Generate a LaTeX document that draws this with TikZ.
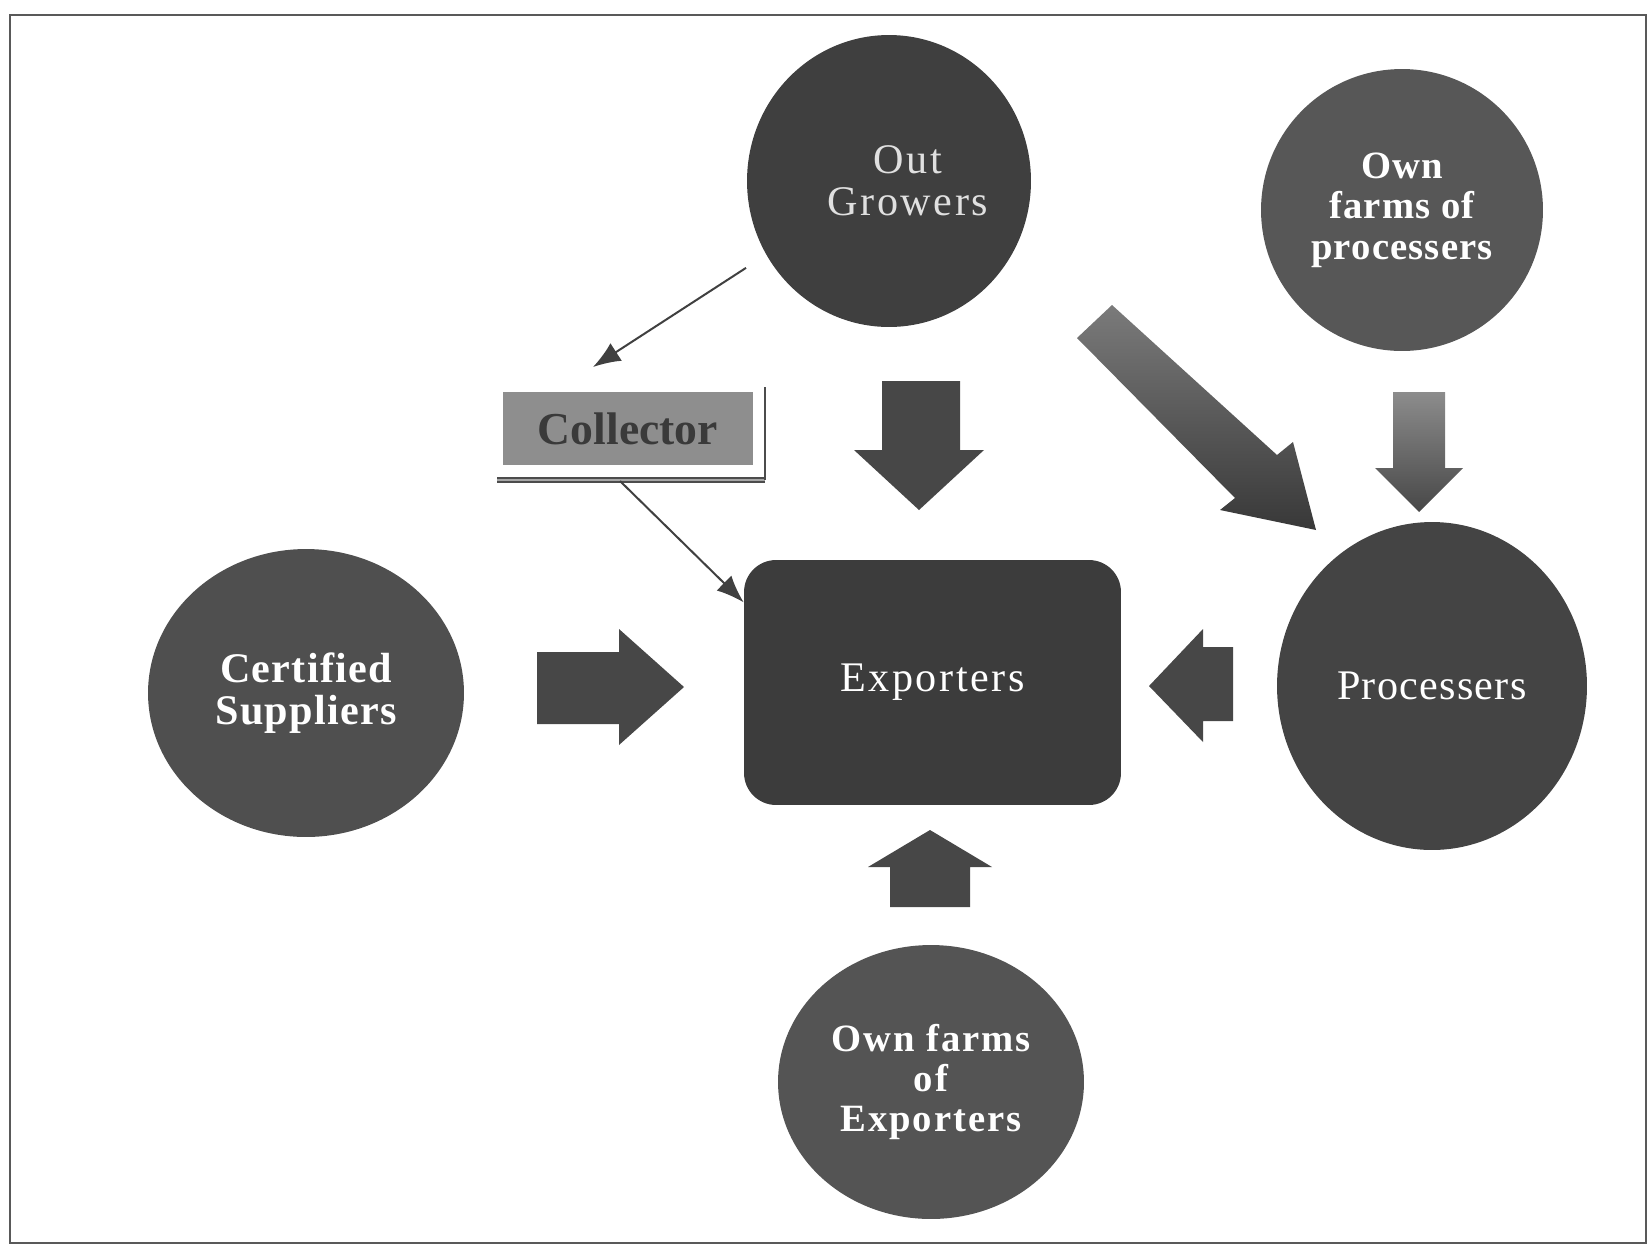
\documentclass[tikz,border=0pt]{standalone}
\usepackage{fontspec}
\setmainfont{Liberation Serif}
\usetikzlibrary{shapes.geometric,arrows.meta}

\definecolor{ballA}{HTML}{3F3F3F}
\definecolor{ballB}{HTML}{575757}
\definecolor{ballC}{HTML}{4F4F4F}
\definecolor{ballD}{HTML}{444444}
\definecolor{ballE}{HTML}{545454}
\definecolor{boxdark}{HTML}{3C3C3C}
\definecolor{collgray}{HTML}{8E8E8E}
\definecolor{colltext}{HTML}{3A3A3A}
\definecolor{fatgray}{HTML}{474747}

\newcommand{\ls}[1]{\addfontfeature{LetterSpace=#1}}

\begin{document}
\begin{tikzpicture}[x=0.02cm, y=-0.02cm, >={Latex[length=0.55cm,width=0.42cm]},
    ball/.style={ellipse, fill=#1, inner sep=0pt, text=white, align=center},
    expbox/.style={rectangle, rounded corners=0.64cm, fill=boxdark, text=white},
    collbox/.style={rectangle, fill=collgray, text=colltext, inner sep=0pt},
    thinarrow/.style={->, line width=0.04cm, black!75},
    fat/.style={fill=fatgray}]
  \useasboundingbox (0,0) rectangle (1650,1252);
  \draw[line width=0.04cm, black!65] (10,15) rectangle (1646,1243);

  % suppliers round the exporters
  \node[ball=ballA, minimum width=5.68cm, minimum height=5.84cm,
    font=\fontsize{24}{24}\selectfont\ls{6}, text=white!88!black] (outg) at (889,181)
    {\hspace*{0.76cm}Out\\\hspace*{0.76cm}Growers};
  \node[ball=ballB, minimum width=5.64cm, minimum height=5.64cm,
    font=\fontsize{22}{23}\selectfont\bfseries\ls{3}] (ownproc) at (1402,210) {Own\\farms of\\processers};
  \node[ball=ballC, minimum width=6.32cm, minimum height=5.76cm,
    font=\fontsize{24}{24}\selectfont\bfseries\ls{3}] (certsup) at (306,693) {Certified\\Suppliers};
  \node[ball=ballD, minimum width=6.2cm, minimum height=6.56cm,
    font=\fontsize{24}{24}\selectfont\ls{3}] (proc) at (1432,686) {Processers};
  \node[ball=ballE, minimum width=6.12cm, minimum height=5.48cm,
    font=\fontsize{22}{23}\selectfont\bfseries\ls{5}] (ownexp) at (931,1082) {Own farms\\of\\Exporters};
  \node[expbox, minimum width=7.54cm, minimum height=4.9cm,
    font=\fontsize{24}{24}\selectfont\ls{6}] (expo) at (932.5,682.5) {Exporters};
  \node[collbox, minimum width=5cm, minimum height=1.46cm,
    font=\fontsize{26}{26}\selectfont\bfseries] (coll) at (628,428.5) {Collector};

  % shadow frame of the collector
  \draw[line width=0.03cm, black!70, double=black!35, double distance=0.05cm] (497,480) -- (765,480);
  \draw[line width=0.04cm, black!70] (765,480) -- (765,387);

  % thin connectors
  \coordinate (colltop) at (593,367);
  \coordinate (collfoot) at (620,481);
  \draw[thinarrow, shorten <=0.48cm] (outg.211) -- (colltop);
  \draw[thinarrow] (collfoot) -- (expo.157);

  % block arrows
  \fill[fat] (882,381) -- (960,381) -- (960,450) -- (984,450) -- (919,510)
    -- (854,450) -- (882,450) -- cycle;
  \shade[top color=black!52, bottom color=black!78] (1077,338) -- (1112,305)
    -- (1277,455) -- (1293,442) -- (1316,530) -- (1220,510) -- (1235,498) -- cycle;
  \shade[top color=black!45, bottom color=black!72] (1393,392) -- (1445,392)
    -- (1445,468) -- (1463,468) -- (1419,512) -- (1375,468) -- (1393,468) -- cycle;
  \fill[fat] (537,652) -- (619,652) -- (619,629) -- (684,687) -- (619,745)
    -- (619,724) -- (537,724) -- cycle;
  \fill[fat] (1233,647) -- (1203,647) -- (1203,629) -- (1149,686) -- (1203,742)
    -- (1203,721) -- (1233,721) -- cycle;
  \fill[fat] (890,907) -- (970,907) -- (970,867) -- (992,867) -- (930,830)
    -- (868,867) -- (890,867) -- cycle;
\end{tikzpicture}
\end{document}
